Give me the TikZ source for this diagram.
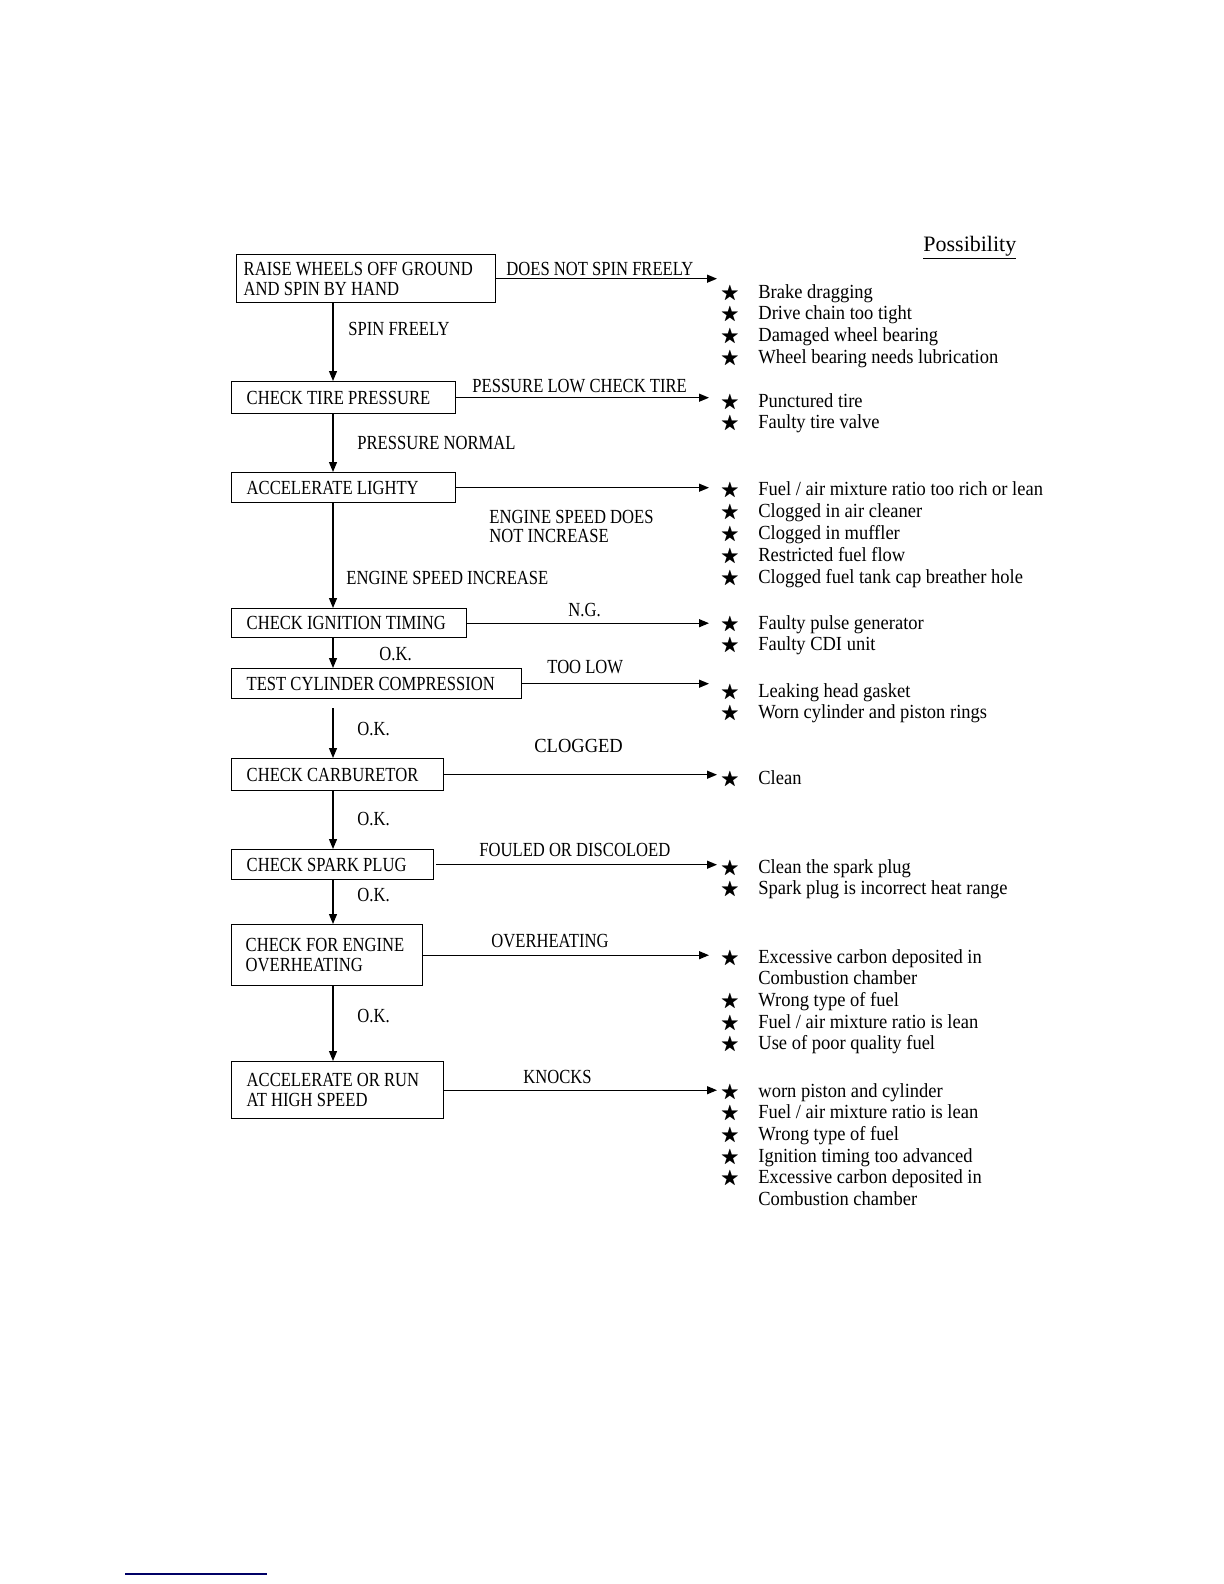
\documentclass[tikz,border=0pt]{standalone}
\usepackage{fontspec}
\usepackage{amssymb}
\setmainfont{Liberation Serif}
\newfontfamily\capsfont[FakeStretch=0.83]{Liberation Serif}
\newfontfamily\listfont[FakeStretch=0.925]{Liberation Serif}
\usetikzlibrary{arrows.meta}
\hyphenpenalty=10000
\exhyphenpenalty=10000

\newcommand{\st}{\llap{\fontsize{9.6}{9.6}\selectfont$\bigstar$\hspace{9.7pt}}}

\tikzset{
  stepbox/.style={draw, line width=0.7pt, anchor=north west, align=flush left,
    inner xsep=7.5pt, inner ysep=0pt, font=\capsfont\fontsize{10}{9.8}\selectfont},
  steplabel/.style={anchor=base west, inner sep=0pt, font=\capsfont\fontsize{10}{9.5}\selectfont},
  cause/.style={anchor=base west, inner sep=0pt, font=\listfont\fontsize{10}{10}\selectfont},
  flow/.style={line width=0.6pt, -{Triangle[length=5pt,width=4pt]}}
}

\begin{document}
\begin{tikzpicture}[x=0.5pt, y=-0.5pt]
\useasboundingbox (0,0) rectangle (1224,1584);

% Define the steps of the check
\node[stepbox, inner xsep=3.5pt, text width=122.5pt, minimum height=24pt] (raise) at (236,254) {RAISE WHEELS OFF GROUND\\AND SPIN BY HAND};
\node[stepbox, text width=97pt, minimum height=16pt] (tire) at (231,381) {CHECK TIRE PRESSURE};
\node[stepbox, text width=97pt, minimum height=15pt] (accel) at (231,472) {ACCELERATE LIGHTY};
\node[stepbox, text width=102.5pt, minimum height=14.5pt] (ignition) at (231,608) {CHECK IGNITION TIMING};
\node[stepbox, text width=130pt, minimum height=15pt] (compression) at (231,668) {TEST CYLINDER COMPRESSION};
\node[stepbox, text width=91pt, minimum height=16pt] (carb) at (231,758) {CHECK CARBURETOR};
\node[stepbox, text width=86pt, minimum height=15pt] (plug) at (231,849) {CHECK SPARK PLUG};
\node[stepbox, inner xsep=7pt, text width=81.5pt, minimum height=30.5pt] (overheat) at (231,924) {CHECK FOR ENGINE\\OVERHEATING};
\node[stepbox, text width=91pt, minimum height=28.5pt] (highspeed) at (231,1061) {ACCELERATE OR RUN\\AT HIGH SPEED};

% Where the arrows end
\coordinate (spine) at (333,0);
\coordinate (endA) at (717,0);
\coordinate (endB) at (709,0);

% Labels of the arrows
\node[steplabel] (spin) at (348,335) {SPIN FREELY};
\node[steplabel] (normal) at (357,449) {PRESSURE NORMAL};
\node[steplabel] (increase) at (346,584) {ENGINE SPEED INCREASE};
\node[steplabel] (ok1) at (379,660) {O.K.};
\node[steplabel] (ok2) at (357,735) {O.K.};
\node[steplabel] (ok3) at (357,825) {O.K.};
\node[steplabel] (ok4) at (357,901) {O.K.};
\node[steplabel] (ok5) at (357,1022) {O.K.};

\node[steplabel] (nospin) at (506,275) {DOES NOT SPIN FREELY};
\node[steplabel] (low) at (472,392) {PESSURE LOW CHECK TIRE};
\node[steplabel, anchor=north west, align=flush left] (nospeed) at (489,510) {ENGINE SPEED DOES\\NOT INCREASE};
\node[steplabel] (ng) at (568,616) {N.G.};
\node[steplabel] (toolow) at (547,673) {TOO LOW};
\node[cause] (clogged) at (534,752) {CLOGGED};
\node[steplabel] (fouled) at (479,856) {FOULED OR DISCOLOED};
\node[steplabel] (hot) at (491,947) {OVERHEATING};
\node[steplabel] (knocks) at (523,1083) {KNOCKS};

% Draw the arrows down the column
\draw[flow] (raise.south -| spine) -- (tire.north -| spine);
\draw[flow] (tire.south -| spine) -- (accel.north -| spine);
\draw[flow] (accel.south -| spine) -- (ignition.north -| spine);
\draw[flow] (ignition.south -| spine) -- (compression.north -| spine);
\draw[flow, shorten <=4.5pt] (compression.south -| spine) -- (carb.north -| spine);
\draw[flow] (carb.south -| spine) -- (plug.north -| spine);
\draw[flow] (plug.south -| spine) -- (overheat.north -| spine);
\draw[flow] (overheat.south -| spine) -- (highspeed.north -| spine);

% Draw the arrows to the possibilities
\draw[flow] (raise.east) -- (raise.east -| endA);
\draw[flow] (tire.east) -- (tire.east -| endB);
\draw[flow] (accel.east) -- (accel.east -| endB);
\draw[flow] (ignition.east) -- (ignition.east -| endB);
\draw[flow] (compression.east) -- (compression.east -| endB);
\draw[flow] (carb.east) -- (carb.east -| endA);
\draw[flow, shorten <=1pt] (plug.east) -- (plug.east -| endA);
\draw[flow] (overheat.east) -- (overheat.east -| endB);
\draw[flow] (highspeed.east) -- (highspeed.east -| endA);

% Possibilities
\node[anchor=base west, inner sep=0pt, font=\fontsize{11}{11}\selectfont] (title) at (923,251) {\underline{Possibility}};

\foreach \txt [count=\i from 0] in {\st Brake dragging, \st Drive chain too tight, \st Damaged wheel bearing, \st Wheel bearing needs lubrication}
  \node[cause] (P1-\i) at (758,298+21.7*\i) {\txt};
\foreach \txt [count=\i from 0] in {\st Punctured tire, \st Faulty tire valve}
  \node[cause] (P2-\i) at (758,407+21.7*\i) {\txt};
\foreach \txt [count=\i from 0] in {{\st Fuel / air mixture ratio too rich or lean}, \st Clogged in air cleaner, \st Clogged in muffler, \st Restricted fuel flow, \st Clogged fuel tank cap breather hole}
  \node[cause] (P3-\i) at (758,495+22.2*\i) {\txt};
\foreach \txt [count=\i from 0] in {\st Faulty pulse generator, \st Faulty CDI unit}
  \node[cause] (P4-\i) at (758,629+21.7*\i) {\txt};
\foreach \txt [count=\i from 0] in {\st Leaking head gasket, \st Worn cylinder and piston rings}
  \node[cause] (P5-\i) at (758,697+21.7*\i) {\txt};
\node[cause] (P6-0) at (758,784) {\st Clean};
\foreach \txt [count=\i from 0] in {\st Clean the spark plug, \st Spark plug is incorrect heat range}
  \node[cause] (P7-\i) at (758,873+21.7*\i) {\txt};
\foreach \txt [count=\i from 0] in {\st Excessive carbon deposited in, Combustion chamber, \st Wrong type of fuel, {\st Fuel / air mixture ratio is lean}, \st Use of poor quality fuel}
  \node[cause] (P8-\i) at (758,963+21.7*\i) {\txt};
\foreach \txt [count=\i from 0] in {\st worn piston and cylinder, {\st Fuel / air mixture ratio is lean}, \st Wrong type of fuel, \st Ignition timing too advanced, \st Excessive carbon deposited in, Combustion chamber}
  \node[cause] (P9-\i) at (758,1097+21.7*\i) {\txt};

% Footnote rule
\draw[line width=0.6pt, blue!40!black] (125,1574) -- (267,1574);
\end{tikzpicture}
\end{document}
